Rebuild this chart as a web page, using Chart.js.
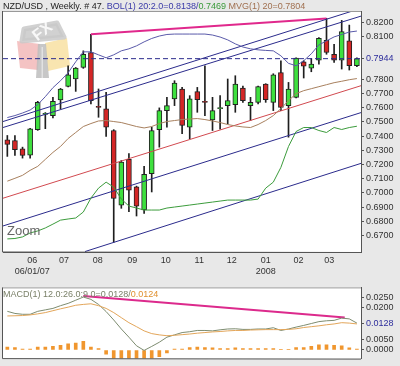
<!DOCTYPE html>
<html>
<head>
<meta charset="utf-8">
<title>NZD/USD Weekly</title>
<script src="https://cdn.jsdelivr.net/npm/chart.js@4.4.1/dist/chart.umd.min.js"></script>
<style>
  body { margin: 0; background: #e8e8e8; }
  #wrap { position: relative; width: 400px; height: 366px; font-family: 'Liberation Sans', Arial, sans-serif; }
  #mainChart { position: absolute; left: 0; top: 0; }
  #macdChart { position: absolute; left: 0; top: 280px; }
  .label { position: absolute; font-size: 9px; line-height: 11px; white-space: nowrap; }
</style>
</head>
<body>
<div id="wrap">
  <canvas id="mainChart" width="400" height="280"></canvas>
  <canvas id="macdChart" width="400" height="86"></canvas>
  <div class="label" style="left:3px;top:1px;color:#222">NZD/USD , Weekly. # 47. <span style="color:#3a3aa8">BOL(1) 20:2.0=0.8138/</span><span style="color:#3a9a3a">0.7469</span> <span style="color:#a07050">MVG(1) 20=0.7804</span></div>
  <div class="label" style="left:7px;top:223px;font-size:13px;line-height:16px;color:#666">Zoom</div>
  <div class="label" style="left:3px;top:289px;color:#7a8068">MACD(1) 12.0:26.0:9.0=0.0128/<span style="color:#e0902f">0.0124</span></div>
</div>
<script>
// Weekly candles, oldest first
const opens  = [0.7374,0.7369,0.7311,0.7266,0.7444,0.7552,0.7544,0.7654,0.7749,0.7801,0.7882,0.7987,0.7609,0.7591,0.7439,0.6915,0.7236,0.7043,0.6880,0.7136,0.7444,0.7579,0.7661,0.7731,0.7462,0.7712,0.7644,0.7514,0.7592,0.7614,0.7621,0.7738,0.7614,0.7637,0.7766,0.7637,0.7847,0.7614,0.7672,0.7922,0.7878,0.7933,0.8073,0.7975,0.7934,0.8069,0.7894];
const highs  = [0.7404,0.7404,0.7322,0.7455,0.7644,0.7565,0.7672,0.7735,0.7894,0.7882,0.7999,0.8115,0.7731,0.7707,0.7445,0.7228,0.7276,0.7048,0.7187,0.7462,0.7598,0.7672,0.7789,0.7742,0.7684,0.7742,0.7894,0.7672,0.7684,0.7801,0.7824,0.7752,0.7672,0.7752,0.7768,0.7838,0.7929,0.7777,0.7950,0.7930,0.7945,0.8092,0.8227,0.8045,0.8213,0.8180,0.7950];
const lows   = [0.7257,0.7264,0.7245,0.7245,0.7440,0.7452,0.7528,0.7591,0.7745,0.7714,0.7876,0.7626,0.7532,0.7397,0.6654,0.6892,0.6868,0.6838,0.6857,0.7007,0.7322,0.7462,0.7614,0.7416,0.7381,0.7567,0.7544,0.7439,0.7448,0.7486,0.7567,0.7637,0.7509,0.7626,0.7637,0.7579,0.7579,0.7392,0.7668,0.7808,0.7852,0.7906,0.7975,0.7917,0.7871,0.7864,0.7887];
const closes = [0.7341,0.7304,0.7264,0.7451,0.7637,0.7560,0.7644,0.7731,0.7831,0.7878,0.7975,0.7649,0.7601,0.7462,0.6962,0.7217,0.7019,0.6908,0.7131,0.7439,0.7579,0.7614,0.7773,0.7474,0.7661,0.7656,0.7636,0.7579,0.7600,0.7649,0.7766,0.7649,0.7637,0.7747,0.7656,0.7831,0.7602,0.7731,0.7948,0.7892,0.7906,0.8087,0.7987,0.7934,0.8134,0.7894,0.7944];

// Bollinger bands and 20 week average
const bolUpper = [0.7530,0.7544,0.7562,0.7583,0.7621,0.7677,0.7740,0.7789,0.7845,0.7922,0.7992,0.7992,0.7971,0.7950,0.7971,0.7999,0.8013,0.8034,0.8062,0.8086,0.8103,0.8114,0.8117,0.8117,0.8117,0.8117,0.8117,0.8110,0.8096,0.8076,0.8048,0.8026,0.8013,0.8006,0.8002,0.7999,0.7964,0.7911,0.7894,0.7929,0.7978,0.8041,0.8069,0.8097,0.8114,0.8131,0.8138];
const bolLower = [0.6677,0.6680,0.6691,0.6719,0.6733,0.6754,0.6781,0.6809,0.6817,0.6824,0.6866,0.6964,0.7034,0.7076,0.7041,0.6957,0.6908,0.6894,0.6880,0.6880,0.6880,0.6894,0.6901,0.6908,0.6915,0.6922,0.6929,0.6936,0.6943,0.6950,0.6950,0.6950,0.6950,0.6957,0.7034,0.7076,0.7180,0.7327,0.7432,0.7460,0.7460,0.7439,0.7425,0.7460,0.7446,0.7460,0.7469];
const mvg20    = [0.7083,0.7103,0.7124,0.7159,0.7187,0.7236,0.7285,0.7327,0.7383,0.7425,0.7467,0.7488,0.7506,0.7509,0.7502,0.7495,0.7481,0.7467,0.7457,0.7467,0.7488,0.7502,0.7509,0.7516,0.7520,0.7523,0.7516,0.7506,0.7495,0.7481,0.7471,0.7464,0.7460,0.7481,0.7509,0.7544,0.7593,0.7649,0.7698,0.7719,0.7733,0.7747,0.7761,0.7775,0.7785,0.7796,0.7804];

// MACD 12/26/9
const macdLine   = [0.0184,0.0174,0.0170,0.0170,0.0184,0.0191,0.0198,0.0211,0.0222,0.0237,0.0252,0.0241,0.0217,0.0183,0.0143,0.0100,0.0061,0.0020,-0.0002,0.0017,0.0037,0.0061,0.0072,0.0083,0.0087,0.0093,0.0093,0.0091,0.0096,0.0100,0.0101,0.0098,0.0098,0.0100,0.0100,0.0106,0.0093,0.0100,0.0109,0.0117,0.0126,0.0135,0.0139,0.0141,0.0152,0.0148,0.0128];
const macdSignal = [0.0162,0.0163,0.0164,0.0167,0.0172,0.0178,0.0187,0.0196,0.0204,0.0213,0.0217,0.0220,0.0211,0.0198,0.0178,0.0154,0.0130,0.0111,0.0091,0.0078,0.0072,0.0068,0.0070,0.0073,0.0076,0.0080,0.0083,0.0086,0.0088,0.0091,0.0093,0.0093,0.0095,0.0096,0.0097,0.0097,0.0097,0.0098,0.0101,0.0107,0.0111,0.0115,0.0120,0.0124,0.0130,0.0128,0.0124];
const macdHist   = [0.0014,0.0012,0.0004,0.0004,0.0014,0.0014,0.0017,0.0022,0.0029,0.0033,0.0041,0.0014,0.0007,-0.0020,-0.0060,-0.0060,-0.0060,-0.0060,-0.0060,-0.0043,-0.0032,-0.0014,0.0004,0.0004,0.0012,0.0014,0.0012,0.0010,0.0007,0.0007,0.0010,0.0007,0.0007,0.0007,0.0007,0.0007,0.0003,0.0003,0.0012,0.0012,0.0017,0.0025,0.0025,0.0022,0.0020,0.0010,0.0004];

// Hand drawn trend lines, [week, value] end points
const channelTopA = [[-0.57, 0.7502], [45.36, 0.8278]];
const channelTopB = [[-0.57, 0.7460], [46.54, 0.8243]];
const channelMid  = [[-0.57, 0.6768], [46.54, 0.7565]];
const channelLow  = [[10.22, 0.6588], [46.54, 0.7208]];
const trendRed    = [[-0.57, 0.6963], [46.54, 0.7754]];
const highsLine   = [[11, 0.8115], [42, 0.8227]];
const macdDivLine = [[10.0, 0.0257], [44.4, 0.0155]];

// Axes
const weekMin = -0.57, weekMax = 46.54;
const priceMin = 0.6585, priceMax = 0.8279;
const macdMin = -0.0041, macdMax = 0.0298;
const monthTicks  = [3.29, 7.46, 11.89, 16.45, 20.84, 25.26, 29.53, 34.0, 38.3, 42.37];
const monthLabels = ['06', '07', '08', '09', '10', '11', '12', '01', '02', '03'];
const yearLabels  = ['06/01/07', '', '', '', '', '', '', '2008', '', ''];
const priceTicks  = [0.82, 0.81, 0.7944, 0.78, 0.77, 0.76, 0.75, 0.74, 0.73, 0.72, 0.71, 0.70, 0.69, 0.68, 0.67];
const macdTicks   = [0.025, 0.02, 0.0128, 0.005, 0];
const lastClose = 0.7944;
const lastMacd = 0.0128;

Chart.defaults.font.family = "'Liberation Sans', Arial, sans-serif";
Chart.defaults.font.size = 9;
Chart.defaults.color = '#333';

const weeks = closes.map((c, i) => i);
const toPoints = values => values.map((v, i) => ({ x: i, y: v }));
const toLine = pairs => pairs.map(p => ({ x: p[0], y: p[1] }));

function lineSet(data, color, width, dash) {
    return {
        type: 'line', data: data, borderColor: color, borderWidth: width,
        borderDash: dash || [], pointRadius: 0, tension: 0, fill: false, order: 0
    };
}

// white plot area with a thin frame
const framePlugin = {
    id: 'frame',
    beforeDraw(chart) {
        const { ctx, chartArea: a } = chart;
        ctx.save();
        ctx.fillStyle = '#fff';
        ctx.fillRect(a.left, a.top, a.right - a.left, a.bottom - a.top);
        ctx.restore();
    },
    afterDraw(chart) {
        const { ctx, chartArea: a } = chart;
        ctx.save();
        ctx.lineWidth = 1;
        ctx.strokeStyle = '#999';
        ctx.beginPath();
        ctx.moveTo(a.left, a.top + 0.5);
        ctx.lineTo(a.right, a.top + 0.5);
        ctx.stroke();
        ctx.strokeStyle = '#555';
        ctx.beginPath();
        ctx.moveTo(a.left - 0.5, a.top);
        ctx.lineTo(a.left - 0.5, a.bottom);
        ctx.lineTo(a.right, a.bottom + 0.5);
        ctx.stroke();
        ctx.restore();
    }
};

// faded FX keycap logo in the corner
const logoPlugin = {
    id: 'logo',
    beforeDatasetsDraw(chart) {
        const ctx = chart.ctx;
        const poly = (pts, color) => {
            ctx.fillStyle = color;
            ctx.beginPath();
            pts.forEach((p, i) => i ? ctx.lineTo(p[0], p[1]) : ctx.moveTo(p[0], p[1]));
            ctx.closePath();
            ctx.fill();
        };
        ctx.save();
        ctx.globalAlpha = 0.85;
        poly([[17, 41], [40, 44], [38, 70], [20, 68]], '#f2b8b8');
        poly([[45, 43], [67, 38], [70, 66], [48, 71]], '#f8e0a2');
        poly([[38, 44], [46, 44], [49, 78], [36, 78]], '#bdbdbd');
        ctx.fillStyle = '#e6e6e6';
        ctx.fillRect(41.5, 47, 1.5, 31);
        ctx.lineJoin = 'round';
        ctx.lineWidth = 5;
        ctx.strokeStyle = '#c9c9c9';
        poly([[24, 29], [57, 23], [64, 37], [22, 41]], '#c9c9c9');
        ctx.stroke();
        ctx.translate(42, 31);
        ctx.rotate(-0.65);
        ctx.fillStyle = '#fff';
        ctx.font = 'bold 16px "Liberation Sans", Arial, sans-serif';
        ctx.textAlign = 'center';
        ctx.textBaseline = 'middle';
        ctx.fillText('FX', 0, 1);
        ctx.restore();
    }
};

// Price chart
new Chart(document.getElementById('mainChart'), {
    type: 'bar',
    data: {
        datasets: [
            {
                type: 'bar', label: 'wicks',
                data: weeks.map(i => ({ x: i, y: [lows[i], highs[i]] })),
                backgroundColor: '#1e1e1e', barThickness: 1, grouped: false, order: 3
            },
            {
                type: 'bar', label: 'bodies',
                data: weeks.map(i => ({ x: i, y: [opens[i], closes[i]] })),
                backgroundColor: weeks.map(i => closes[i] >= opens[i] ? '#3ee03e' : '#d42626'),
                borderColor: '#222', borderWidth: 1, borderSkipped: false,
                barThickness: 5, grouped: false, order: 2
            },
            lineSet(toPoints(mvg20), '#a8805e', 1),
            lineSet(toPoints(bolUpper), '#5a5aaa', 1),
            lineSet(toPoints(bolLower), '#3c9c3c', 1),
            lineSet(toLine(channelTopA), '#2b2b8c', 1),
            lineSet(toLine(channelTopB), '#2b2b8c', 1),
            lineSet(toLine(channelMid), '#2b2b8c', 1),
            lineSet(toLine(channelLow), '#2b2b8c', 1),
            lineSet(toLine(trendRed), '#d24a50', 1),
            lineSet(toLine(highsLine), '#e0288c', 2),
            lineSet([{ x: weekMin, y: lastClose }, { x: weekMax, y: lastClose }], '#2b2b8c', 1, [5, 3])
        ]
    },
    options: {
        responsive: false,
        animation: false,
        layout: { padding: { left: 3, top: 11, right: 0, bottom: 0 } },
        plugins: { legend: { display: false }, tooltip: { enabled: false } },
        scales: {
            x: {
                type: 'linear', min: weekMin, max: weekMax, offset: false,
                afterBuildTicks: s => { s.ticks = monthTicks.map(v => ({ value: v })); },
                afterFit: s => { s.height = 28; },
                grid: { drawOnChartArea: false, drawTicks: false },
                border: { color: '#555' },
                ticks: {
                    autoSkip: false, maxRotation: 0, padding: 3,
                    callback: (v, i) => yearLabels[i] ? [monthLabels[i], yearLabels[i]] : monthLabels[i]
                }
            },
            y: {
                position: 'right', min: priceMin, max: priceMax,
                afterBuildTicks: s => { s.ticks = priceTicks.map(v => ({ value: v })); },
                afterFit: s => { s.width = 39; },
                grid: { drawOnChartArea: false, tickLength: 3, tickColor: '#555' },
                border: { color: '#555' },
                ticks: {
                    autoSkip: false, padding: 2,
                    callback: v => v.toFixed(4),
                    color: c => c.tick && c.tick.value === lastClose ? '#2d2d9c' : '#333'
                }
            }
        }
    },
    plugins: [framePlugin, logoPlugin]
});

// MACD panel
new Chart(document.getElementById('macdChart'), {
    type: 'bar',
    data: {
        datasets: [
            {
                type: 'bar', label: 'hist',
                data: toPoints(macdHist),
                backgroundColor: '#f0962e', barThickness: 3, grouped: false, order: 3
            },
            lineSet(toPoints(macdSignal), '#e3a65a', 1),
            lineSet(toPoints(macdLine), '#7d8c70', 1),
            lineSet(toLine(macdDivLine), '#dc2a8c', 2)
        ]
    },
    options: {
        responsive: false,
        animation: false,
        layout: { padding: { left: 3, top: 5, right: 0, bottom: 3 } },
        plugins: { legend: { display: false }, tooltip: { enabled: false } },
        scales: {
            x: { type: 'linear', min: weekMin, max: weekMax, offset: false, display: false },
            y: {
                position: 'right', min: macdMin, max: macdMax,
                afterBuildTicks: s => { s.ticks = macdTicks.map(v => ({ value: v })); },
                afterFit: s => { s.width = 39; },
                grid: { drawOnChartArea: false, tickLength: 3, tickColor: '#555' },
                border: { color: '#555' },
                ticks: {
                    autoSkip: false, padding: 2,
                    callback: v => Math.abs(v).toFixed(4),
                    color: c => c.tick && c.tick.value === lastMacd ? '#2d2d9c' : '#333'
                }
            }
        }
    },
    plugins: [framePlugin]
});
</script>
</body>
</html>
